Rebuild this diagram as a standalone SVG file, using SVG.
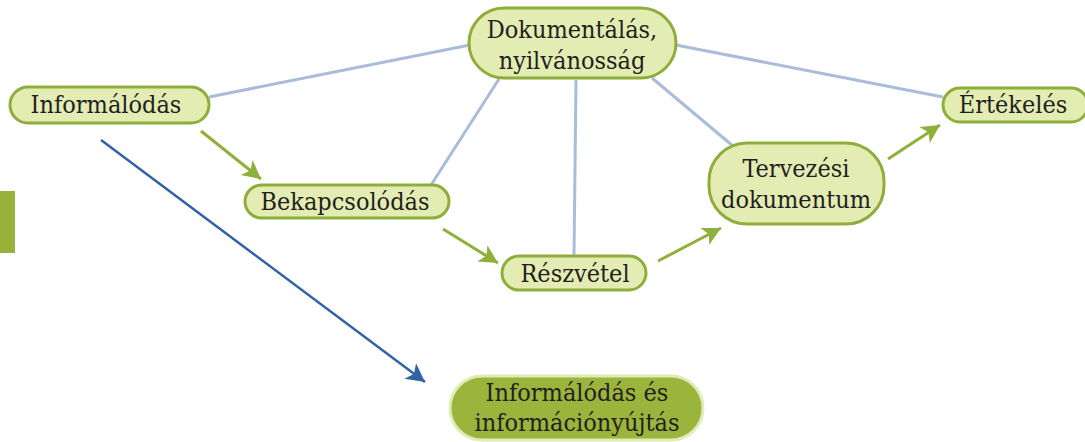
<svg xmlns="http://www.w3.org/2000/svg" width="1085" height="442" viewBox="0 0 1085 442">
<style>
.n{fill:#e3ecb3;stroke:#8fad3a;stroke-width:3}
.t{font-family:"DejaVu Serif Condensed","DejaVu Serif","Liberation Serif",serif;font-size:25px;fill:#231f20;text-anchor:middle}
.l{stroke:#a9bcd9;stroke-width:3;fill:none}
.g{stroke:#8fb03a;stroke-width:3;fill:none;marker-end:url(#ag)}
.b{stroke:#2f63a6;stroke-width:2.5;fill:none;marker-end:url(#ab)}
</style>
<defs>
<marker id="ag" viewBox="0 0 10 10" refX="9" refY="5" markerWidth="8" markerHeight="8" markerUnits="userSpaceOnUse" orient="auto" overflow="visible">
<path d="M-14,-7 L9,5 L-14,17 L-8,5 Z" fill="#8fb03a"/>
</marker>
<marker id="ab" viewBox="0 0 10 10" refX="9" refY="5" markerWidth="8" markerHeight="8" markerUnits="userSpaceOnUse" orient="auto" overflow="visible">
<path d="M-14,-7 L9,5 L-14,17 L-8,5 Z" fill="#2f63a6"/>
</marker>
</defs>
<rect x="0" y="191" width="15" height="62" fill="#97b23b"/>
<g id="connectors">
<line class="l" x1="209" y1="97" x2="470" y2="45"/>
<line class="l" x1="499" y1="79" x2="431" y2="185"/>
<line class="l" x1="576" y1="80" x2="574" y2="255"/>
<line class="l" x1="652" y1="78" x2="733" y2="146"/>
<line class="l" x1="676" y1="45" x2="943" y2="97"/>
<line class="g" x1="201" y1="131" x2="261" y2="179"/>
<line class="g" x1="443" y1="229" x2="498" y2="263"/>
<line class="g" x1="658" y1="261" x2="721" y2="228"/>
<line class="g" x1="888" y1="159" x2="940" y2="125"/>
<line class="b" x1="101" y1="140" x2="425" y2="382"/>
</g>
<g id="dokumentalas">
<rect class="n" x="469" y="8" width="207" height="70" rx="35"/>
<text class="t" x="572" y="38">Dokumentálás,</text>
<text class="t" x="572" y="69">nyilvánosság</text>
</g>
<g id="informalodas">
<rect class="n" x="10" y="87" width="199" height="36" rx="18"/>
<text class="t" x="106" y="113">Informálódás</text>
</g>
<g id="bekapcsolodas">
<rect class="n" x="245" y="185" width="204" height="33" rx="16.5"/>
<text class="t" x="345" y="210">Bekapcsolódás</text>
</g>
<g id="reszvetel">
<rect class="n" x="502" y="256" width="144" height="34" rx="17"/>
<text class="t" x="575" y="282">Részvétel</text>
</g>
<g id="tervezesi">
<rect class="n" x="709" y="143" width="175" height="81" rx="38"/>
<text class="t" x="796" y="177">Tervezési</text>
<text class="t" x="796" y="208">dokumentum</text>
</g>
<g id="ertekeles">
<rect class="n" x="943" y="88" width="145" height="34" rx="17"/>
<text class="t" x="1013" y="113">Értékelés</text>
</g>
<g id="informalodas-es">
<rect x="450" y="376" width="253" height="64" rx="32" fill="#9bb43c" stroke="#e2ebb6" stroke-width="3"/>
<text class="t" x="577" y="401">Informálódás és</text>
<text class="t" x="577" y="431">információnyújtás</text>
</g>
</svg>
